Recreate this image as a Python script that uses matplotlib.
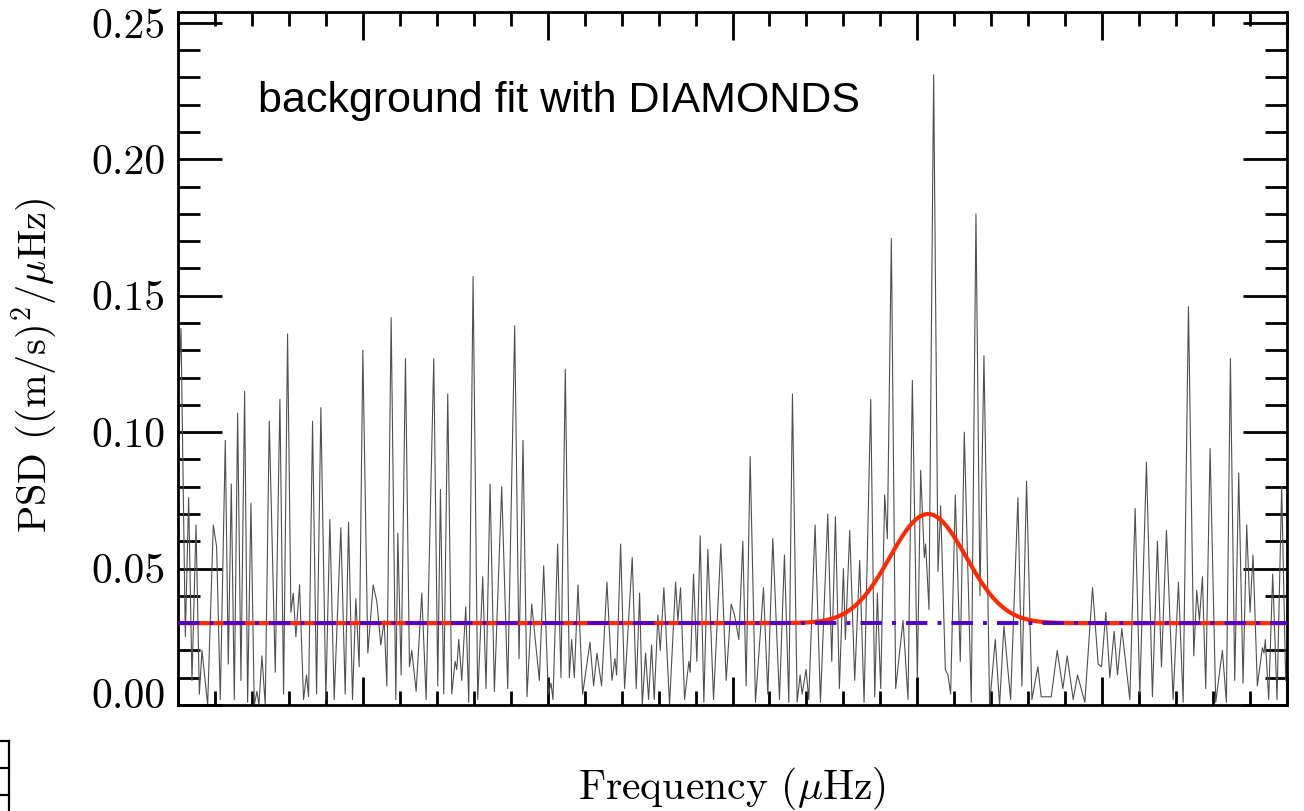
import numpy as np
import matplotlib
matplotlib.use("Agg")
import matplotlib.pyplot as plt
from matplotlib.ticker import MultipleLocator, NullFormatter, FormatStrFormatter
from matplotlib.lines import Line2D
from matplotlib.transforms import ScaledTranslation

plt.rcParams['font.family'] = 'serif'
plt.rcParams['font.serif'] = ['cmr10']
plt.rcParams['mathtext.fontset'] = 'cm'
plt.rcParams['axes.formatter.use_mathtext'] = True

# Power spectral density (turning points of the spectrum), frequency in muHz
freq = [
    2000.0, 2008.1, 2019.8, 2028.8, 2037.8, 2048.7, 2057.7, 2064.9, 2080.2, 2095.5,
    2104.5, 2114.4, 2127.9, 2136.0, 2144.2, 2152.3, 2161.3, 2170.3, 2180.2, 2188.3,
    2197.3, 2206.3, 2213.5, 2218.9, 2227.0, 2236.0, 2246.9, 2263.1, 2275.7, 2285.6,
    2296.4, 2305.4, 2311.7, 2318.9, 2328.8, 2339.6, 2347.7, 2353.2, 2364.0, 2374.8,
    2386.5, 2400.0, 2410.8, 2422.5, 2440.5, 2452.3, 2461.3, 2472.1, 2481.1, 2490.1,
    2500.0, 2513.5, 2527.9, 2537.8, 2548.6, 2557.7, 2564.9, 2576.6, 2589.2, 2594.6,
    2603.6, 2615.3, 2626.1, 2632.4, 2644.2, 2659.5, 2671.2, 2691.9, 2702.7, 2709.9,
    2718.9, 2729.7, 2740.5, 2749.6, 2754.1, 2759.5, 2767.6, 2778.4, 2786.5, 2798.2,
    2810.8, 2824.3, 2833.3, 2844.2, 2855.9, 2875.7, 2891.9, 2910.8, 2922.5, 2933.3,
    2944.1, 2956.8, 2977.5, 2989.2, 3001.8, 3009.0, 3014.4, 3027.0, 3036.0, 3047.7,
    3058.6, 3064.9, 3072.1, 3082.0, 3094.6, 3114.4, 3124.3, 3133.3, 3145.9, 3160.3,
    3173.9, 3182.0, 3186.5, 3197.3, 3208.1, 3228.8, 3239.6, 3248.7, 3255.9, 3264.9,
    3273.0, 3281.1, 3288.3, 3298.2, 3304.5, 3314.4, 3329.7, 3346.0, 3352.3, 3359.5,
    3370.3, 3382.0, 3385.6, 3394.6, 3403.6, 3412.6, 3422.5, 3433.3, 3448.7, 3468.5,
    3482.9, 3496.4, 3505.4, 3517.1, 3527.9, 3536.9, 3547.8, 3562.2, 3583.8, 3595.5,
    3609.0, 3627.0, 3640.5, 3652.3, 3662.2, 3674.8, 3682.9, 3688.3, 3699.1, 3706.3,
    3723.4, 3737.9, 3757.7, 3768.5, 3778.4, 3789.2, 3800.0, 3805.4, 3817.1, 3830.6,
    3844.1, 3855.9, 3873.9, 3884.7, 3891.9, 3900.9, 3911.7, 3918.9, 3929.7, 3941.4,
    3961.3, 3974.8, 3986.5, 4000.0, 4009.0, 4018.9, 4022.5, 4031.5, 4044.1, 4055.9,
    4063.1, 4075.7, 4082.9, 4090.1, 4102.7, 4116.2, 4127.0, 4146.0, 4158.6, 4169.4,
    4180.2, 4195.5, 4210.8, 4222.5, 4234.2, 4252.3, 4272.1, 4282.9, 4295.5, 4309.9,
    4326.1, 4335.1, 4362.2, 4378.4, 4393.7, 4405.4, 4421.6, 4433.3, 4453.1, 4473.9,
    4489.2, 4498.2, 4509.9, 4520.7, 4532.4, 4541.4, 4553.2, 4574.8, 4589.2, 4601.8,
    4619.8, 4636.0, 4649.5, 4660.4, 4673.9, 4691.9, 4706.3, 4719.0, 4733.4, 4747.8,
    4755.9, 4763.1, 4771.2, 4780.2, 4791.9, 4807.2, 4825.2, 4836.0, 4846.9, 4858.6,
    4869.4, 4881.1, 4891.0, 4900.0, 4908.1, 4919.8, 4933.3, 4937.8, 4941.4, 4950.4,
    4961.3, 4973.0, 4985.6, 4996.4, 5000.0,
]
psd = [
    0.110, 0.138, 0.025, 0.076, 0.009, 0.066, 0.004, 0.020, 0.000, 0.066,
    0.058, 0.002, 0.097, 0.015, 0.081, 0.002, 0.107, 0.009, 0.115, 0.001,
    0.074, 0.000, 0.005, 0.000, 0.018, 0.000, 0.104, 0.012, 0.112, 0.004,
    0.136, 0.034, 0.041, 0.025, 0.044, 0.002, 0.011, 0.003, 0.104, 0.004,
    0.109, 0.002, 0.068, 0.002, 0.065, 0.004, 0.067, 0.002, 0.039, 0.014,
    0.130, 0.019, 0.044, 0.038, 0.022, 0.031, 0.007, 0.142, 0.002, 0.063,
    0.011, 0.127, 0.014, 0.020, 0.005, 0.041, 0.002, 0.127, 0.007, 0.079,
    0.004, 0.114, 0.004, 0.016, 0.013, 0.024, 0.009, 0.036, 0.001, 0.157,
    0.002, 0.047, 0.006, 0.081, 0.005, 0.080, 0.006, 0.139, 0.017, 0.097,
    0.003, 0.037, 0.009, 0.051, 0.004, 0.008, 0.002, 0.059, 0.010, 0.123,
    0.010, 0.024, 0.010, 0.044, 0.004, 0.023, 0.007, 0.019, 0.007, 0.045,
    0.009, 0.017, 0.011, 0.059, 0.006, 0.054, 0.006, 0.041, 0.000, 0.019,
    0.002, 0.022, 0.002, 0.033, 0.020, 0.043, 0.000, 0.045, 0.031, 0.043,
    0.002, 0.016, 0.012, 0.048, 0.016, 0.062, 0.001, 0.057, 0.002, 0.059,
    0.009, 0.037, 0.033, 0.024, 0.060, 0.007, 0.091, 0.001, 0.043, 0.004,
    0.061, 0.002, 0.055, 0.001, 0.114, 0.001, 0.011, 0.004, 0.013, 0.002,
    0.066, 0.001, 0.070, 0.016, 0.069, 0.006, 0.050, 0.024, 0.064, 0.009,
    0.053, 0.001, 0.112, 0.003, 0.041, 0.006, 0.077, 0.061, 0.171, 0.006,
    0.031, 0.002, 0.119, 0.010, 0.086, 0.054, 0.059, 0.035, 0.231, 0.049,
    0.073, 0.013, 0.011, 0.004, 0.077, 0.016, 0.100, 0.001, 0.180, 0.040,
    0.128, 0.000, 0.024, 0.000, 0.029, 0.002, 0.076, 0.007, 0.082, 0.002,
    0.014, 0.003, 0.003, 0.020, 0.006, 0.018, 0.002, 0.011, 0.001, 0.043,
    0.015, 0.014, 0.034, 0.010, 0.027, 0.011, 0.028, 0.002, 0.072, 0.004,
    0.089, 0.003, 0.060, 0.014, 0.064, 0.002, 0.045, 0.001, 0.146, 0.018,
    0.042, 0.031, 0.047, 0.006, 0.094, 0.001, 0.020, 0.001, 0.127, 0.009,
    0.085, 0.008, 0.066, 0.034, 0.055, 0.007, 0.021, 0.019, 0.024, 0.002,
    0.048, 0.002, 0.080, 0.009, 0.020,
]

# DIAMONDS background fit: flat noise level plus Gaussian oscillation envelope
bg_level = 0.030
env_height = 0.040
env_center = 4029.0
env_sigma = 103.0

x_range = (2000.0, 5000.0)
y_range = (0.0, 0.254)

fig = plt.figure(figsize=(13.04, 8.11), dpi=100)
ax = fig.add_axes([178 / 1304, 106 / 811, 1109 / 1304, 693 / 811])

ax.plot(freq, psd, color='#505050', lw=0.8, zorder=2)

f_model = np.linspace(x_range[0], x_range[1], 2000)
model = bg_level + env_height * np.exp(-0.5 * ((f_model - env_center) / env_sigma) ** 2)
ax.plot(f_model, model, color='#ff2a00', lw=3.0, zorder=3, solid_capstyle='butt')
ax.plot(x_range, [bg_level, bg_level], color='#5000c8', lw=2.8, zorder=4,
        dashes=(5.5, 2.6, 1.0, 2.6), dash_capstyle='butt')

ax.set_xlim(*x_range)
ax.set_ylim(*y_range)

ax.xaxis.set_major_locator(MultipleLocator(500))
ax.xaxis.set_minor_locator(MultipleLocator(100))
ax.xaxis.set_major_formatter(NullFormatter())
ax.yaxis.set_major_locator(MultipleLocator(0.05))
ax.yaxis.set_minor_locator(MultipleLocator(0.01))
ax.yaxis.set_major_formatter(FormatStrFormatter('%.2f'))

ax.tick_params(which='both', direction='in', top=True, right=True, width=2, color='black')
ax.tick_params(axis='y', which='major', length=32, labelsize=30, pad=9)
ax.tick_params(axis='y', which='minor', length=16)
ax.tick_params(axis='x', which='major', length=20, labelbottom=False)
ax.tick_params(axis='x', which='minor', length=10)
for sp in ax.spines.values():
    sp.set_linewidth(2)

ax.set_ylabel(r'PSD ((m/s)$^2$/$\mu$Hz)', fontsize=29)
ax.yaxis.set_label_coords(-0.107, 0.49)
ax.set_xlabel(r'Frequency ($\mu$Hz)', fontsize=30)
ax.xaxis.set_label_coords(0.5, -0.086)

ax.text(0.072, 0.856, 'background fit with DIAMONDS', transform=ax.transAxes,
        fontsize=31, family='Liberation Sans', va='baseline', ha='left')

# frame corner of the neighbouring panel
for yy in (741, 768, 795):
    fig.add_artist(Line2D([0, 9 / 1304], [1 - yy / 811] * 2,
                          transform=fig.transFigure, color='black', lw=1.6))
fig.add_artist(Line2D([9 / 1304, 9 / 1304], [1 - 741 / 811, 0],
                      transform=fig.transFigure, color='black', lw=1.6))

# lift the bottom tick label off the lower frame edge
fig.canvas.draw()
for tick in ax.yaxis.get_major_ticks():
    if abs(tick.get_loc()) < 1e-9:
        lbl = tick.label1
        lbl.set_transform(lbl.get_transform()
                          + ScaledTranslation(0, 12 / 100, fig.dpi_scale_trans))

fig.savefig('out.png', dpi=100)
